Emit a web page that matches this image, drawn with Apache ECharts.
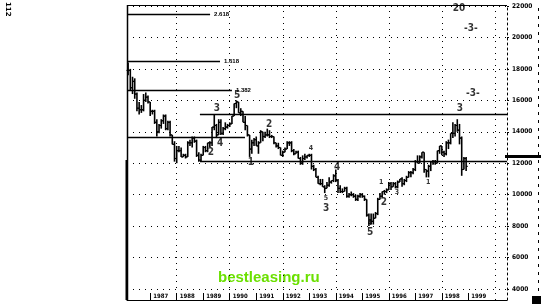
<!DOCTYPE html>
<html><head><meta charset="utf-8">
<script src="https://cdn.jsdelivr.net/npm/echarts@6/dist/echarts.min.js"></script>
<style>html,body{margin:0;padding:0;background:#fff}#c{width:541px;height:307px}</style>
</head><body><div id="c"></div>
<script>
// time axis: months since Jan 1986 (Jan 1986 = 0); first bar = Mar 1986
const firstMonth = 2;
const yearTickMonths = [12,24,36,48,60,72,84,96,108,120,132,144,156];
const yearTickLabels = ['1987','1988','1989','1990','1991','1992','1993','1994','1995','1996','1997','1998','1999'];
const gridMonths = [24,48,72,96,120,144,168];
const priceTicks = [4000,6000,8000,10000,12000,14000,16000,18000,20000,22000];

const closes = [
 17900,16800,17200,16400,15500,15400,15400,16000,16200,15900,
 15300,15300,14600,14000,14400,14700,15000,14200,14600,13800,13200,12300,
 12800,12800,12400,12500,12400,13300,13300,13600,13400,12500,12200,12500,
 13000,12800,13300,13300,14300,14400,13800,14600,13900,14200,14300,14400,
 14500,15000,15800,15900,15200,15300,14600,14400,13800,12900,13300,13500,
 13100,13300,14000,13700,13800,13800,13700,13700,13300,13100,13000,12500,
 12700,12900,13300,13300,12800,12600,12700,12300,12000,12300,12400,12500,
 12500,11800,11600,11100,10700,10700,10500,10400,10600,10800,10900,11200,
 10900,10400,10200,10200,10400,9900,10000,10000,9900,9700,9900,10000,
 9900,9700,8700,8400,8300,8500,8800,9700,9900,10200,10200,10300,
 10700,10500,10700,10500,10800,11000,10700,10900,11100,11400,11400,11600,
 12100,12000,12400,12700,11600,11500,11800,12100,12100,12000,12800,13100,
 12700,12600,13300,13300,13900,13900,14400,14100,13600,11600,12300,11800
];
const highs = [
 18400,18000,17500,17400,16500,15900,15700,16400,16500,16300,
 15900,15400,15400,14800,14500,14800,15100,15100,14700,14700,13800,13400,
 13100,13100,13000,12600,12600,13400,13500,13700,13700,13500,12700,12600,
 13100,13100,13300,13400,14300,15100,14500,14800,14800,14300,14600,14500,
 14600,15000,15800,16000,15900,15500,15300,15000,14400,13800,13500,13600,
 13700,13400,14100,14000,14000,14200,14100,13800,13700,13300,13300,13000,
 12800,13000,13400,13400,13400,12900,12800,12800,12400,12500,12600,12500,
 12600,12600,11900,11700,11200,11000,11000,10600,10800,11100,10900,11300,
 11600,11000,10600,10400,10500,10500,10100,10200,10100,10000,10000,10100,
 10100,9950,9700,8800,8800,8800,8900,9800,10100,10200,10300,10400,
 10800,10800,10800,10800,10900,11000,11100,11000,11200,11500,11500,11700,
 12200,12500,12500,12700,12700,11600,11900,12000,12200,12200,12800,13100,
 13000,12800,13400,13500,13900,14600,14500,14800,14500,13700,12400,12400
];
const lows = [
 17600,16600,16400,16100,15300,15100,15200,15300,15900,15800,
 15000,15100,14500,13700,13900,14200,14500,14100,14100,13700,13200,12100,
 12000,12700,12400,12400,12300,12400,13100,13000,13300,12400,12100,12100,
 12500,12700,12700,13000,13100,14100,13600,13800,13800,13800,14100,14200,
 14300,14500,15000,15500,15200,15000,14600,14100,13700,12400,12600,13100,
 13100,12600,13300,13400,13600,13700,13600,13600,13200,13000,12900,12600,
 12400,12700,12900,13100,12700,12500,12600,12300,11900,11900,12200,12300,
 12400,11600,11500,11100,10700,10600,10500,10100,10400,10500,10700,10800,
 10800,10100,10100,10100,10200,9800,9800,9900,9800,9600,9600,9800,
 9800,9600,8600,8000,8100,8100,8500,8700,9700,9800,10000,10100,
 10300,10300,10500,10400,10400,10800,10500,10600,10800,11100,11100,11300,
 11500,12000,12000,12300,11400,11100,11100,11500,11900,11900,12100,12600,
 12500,12400,12500,12900,13200,13600,13700,14000,13200,11200,11600,11500
];

// horizontal projection lines: [value, from month, to month, label]
const levelValues = [21490, 18500, 16660, 15130, 13670, 12140];
const levelFrom   = [1.5, 1.5, 1.5, 34.5, 1.5, 34.5];
const levelTo     = [39.1, 43.6, 49.0, 173.5, 54.9, 173.5];
const levelText   = ['2.618', '1.618', '1.382', '', '', ''];

// wave counts: [month, value, text]
const bigWaves = [
 [42.2,15510,'3'],[51.3,16340,'5'],[39.5,12710,'2'],[43.6,13290,'4'],
 [57.6,12080,'1'],[65.8,14500,'2'],[91.6,9150,'3'],[96.6,11760,'4'],
 [111.5,7630,'5'],[117.8,9530,'2'],[152.2,15510,'3'],
 [157.2,20600,'-3-'],[158.1,16470,'-3-'],[151.8,21870,'20']
];
const smallWaves = [
 [84.8,12970,'4'],[91.6,9790,'5'],[111.5,8200,'4'],[116.5,10800,'1'],
 [123.7,10170,'3'],[137.8,10800,'1']
];

const bars = closes.map((c, i) => [firstMonth + i, highs[i], lows[i], c, i > 0 ? closes[i-1] : c]);

const chart = echarts.init(document.getElementById('c'), null, {renderer: 'canvas'});
const dotted = {color: '#000', width: 1, type: [1, 5]};
const markLines = [];
priceTicks.forEach(v => markLines.push({yAxis: v, lineStyle: dotted, label: {show: false}}));
gridMonths.forEach(m => markLines.push({xAxis: m, lineStyle: dotted, label: {show: false}}));
levelValues.forEach((v, i) => markLines.push([
  {coord: [levelFrom[i], v], lineStyle: {color: '#000', width: 1.4, type: 'solid'},
   label: {show: !!levelText[i], formatter: levelText[i], position: 'end', fontSize: 6, fontWeight: 'bold', color: '#000', distance: 4}},
  {coord: [levelTo[i], v]}
]));

const labelSeries = (arr, size) => ({
  type: 'scatter', symbolSize: 0, silent: true, z: 5,
  data: arr.map(d => ({value: [d[0], d[1]], label: {formatter: d[2]}})),
  label: {show: true, position: 'inside', color: '#000', fontSize: size, fontWeight: 'bold',
          fontFamily: 'Liberation Sans Narrow, DejaVu Sans Condensed, sans-serif'}
});

chart.setOption({
  animation: false,
  backgroundColor: '#fff',
  grid: {left: 127, top: 6, width: 380, height: 294},
  xAxis: {
    type: 'value', min: 1.5, max: 173.5,
    axisLine: {show: true, lineStyle: {color: '#000', width: 1}},
    splitLine: {show: false},
    axisTick: {show: true, inside: true, length: 7, customValues: yearTickMonths, lineStyle: {color: '#000', width: 1}},
    axisLabel: {show: true, inside: true, customValues: yearTickMonths, margin: 1,
      formatter: v => yearTickLabels[yearTickMonths.indexOf(v)] || '',
      align: 'left', padding: [0, 0, 0, 3], fontSize: 6, fontWeight: 'bold', color: '#000', fontFamily: 'DejaVu Sans Condensed, sans-serif'}
  },
  yAxis: {
    type: 'value', position: 'right', min: 3300, max: 22000,
    axisLine: {show: true, lineStyle: {color: '#000', width: 1, type: [2, 3]}},
    splitLine: {show: false},
    axisTick: {show: true, customValues: priceTicks, length: 2, lineStyle: {color: '#000'}},
    axisLabel: {show: true, customValues: priceTicks, margin: 5, fontSize: 6.5, fontWeight: 'bold', color: '#000',
      formatter: v => String(v),
      fontFamily: 'DejaVu Sans Condensed, sans-serif'}
  },
  series: [
    {
      type: 'custom', z: 3,
      data: bars,
      encode: {x: 0, y: [1, 2]},
      renderItem: function (params, api) {
        const t = api.value(0), h = api.value(1), l = api.value(2), c = api.value(3), o = api.value(4);
        const top = api.coord([t, Math.max(h, c, o)]);
        const bot = api.coord([t, Math.min(l, c, o)]);
        const pc = api.coord([t, c]);
        const po = api.coord([t, o]);
        return {type: 'group', children: [
          {type: 'line', shape: {x1: top[0], y1: top[1], x2: bot[0], y2: bot[1]}, style: {stroke: '#000', lineWidth: 1.6}},
          {type: 'line', shape: {x1: pc[0], y1: pc[1], x2: pc[0] + 1.6, y2: pc[1]}, style: {stroke: '#000', lineWidth: 1.2}},
          {type: 'line', shape: {x1: po[0] - 1.6, y1: po[1], x2: po[0], y2: po[1]}, style: {stroke: '#000', lineWidth: 1.2}}
        ]};
      },
      markLine: {silent: true, symbol: ['none', 'none'], animation: false, data: markLines}
    },
    labelSeries(bigWaves, 10),
    labelSeries(smallWaves, 7)
  ],
  graphic: [
    {type: 'line', shape: {x1: 127, y1: 5.5, x2: 507, y2: 5.5}, style: {stroke: '#000', lineWidth: 1}},
    {type: 'line', shape: {x1: 127.5, y1: 5, x2: 127.5, y2: 300}, style: {stroke: '#000', lineWidth: 1.5}},
    {type: 'line', shape: {x1: 126.5, y1: 160, x2: 126.5, y2: 300}, style: {stroke: '#000', lineWidth: 2}},
    {type: 'line', shape: {x1: 538.5, y1: 8, x2: 538.5, y2: 296}, style: {stroke: '#000', lineWidth: 1, lineDash: [3, 5]}},
    {type: 'rect', shape: {x: 505, y: 155, width: 36, height: 3}, style: {fill: '#000'}},
    {type: 'rect', shape: {x: 532, y: 296, width: 9, height: 8}, style: {fill: '#000'}},
    {type: 'text', x: 4, y: 3, rotation: -Math.PI / 2, originX: 4, originY: 3,
      style: {text: '112', fontSize: 7, fontWeight: 'bold', fill: '#000', fontFamily: 'DejaVu Sans, sans-serif'}},
    {type: 'text', left: 218, top: 270,
      style: {text: 'bestleasing.ru', fontSize: 15, fontWeight: 'bold', fill: '#6be000', fontFamily: 'Liberation Sans, Arial, sans-serif'}}
  ]
});
</script>
</body></html>
